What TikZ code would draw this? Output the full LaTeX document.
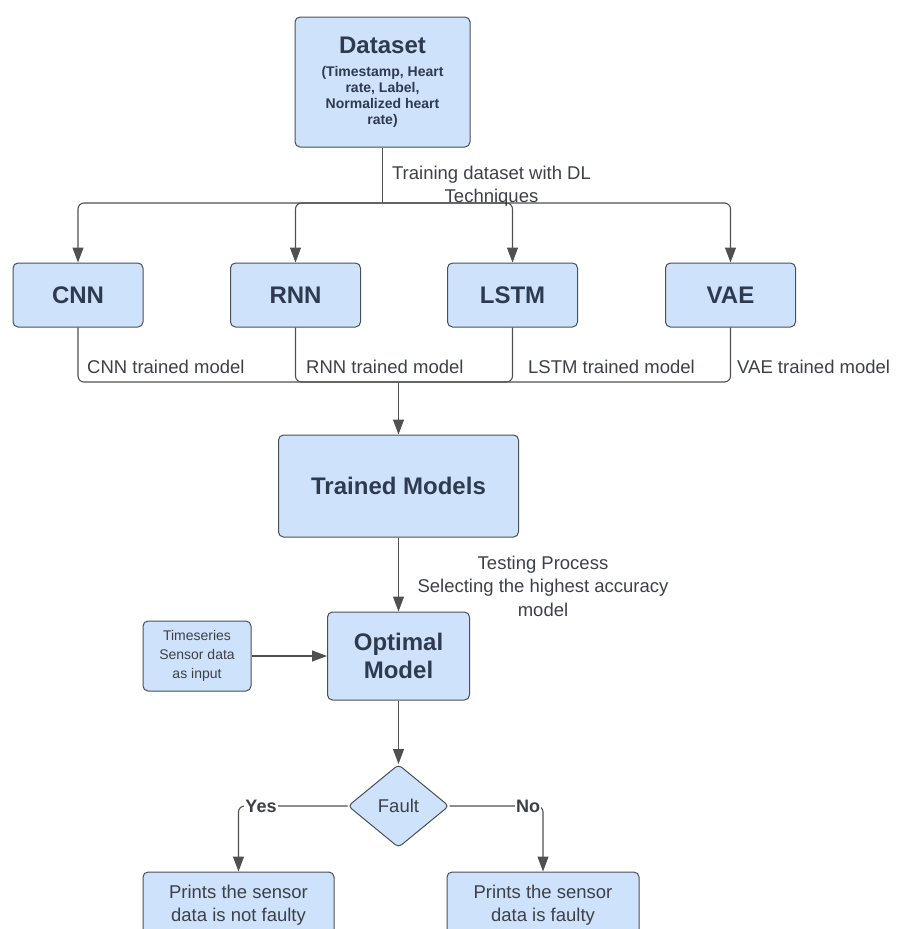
\documentclass[tikz,border=0pt]{standalone}
\usepackage{fontspec}
\setmainfont{Liberation Sans}
\usepackage{xcolor}
\usetikzlibrary{arrows.meta,shapes.geometric}
\definecolor{boxfill}{HTML}{CFE2FB}
\definecolor{boxline}{HTML}{4A4F57}
\definecolor{titletext}{HTML}{2E3B4F}
\definecolor{plaintext}{HTML}{3C4148}
\definecolor{wiregray}{HTML}{505050}

\begin{document}
\begin{tikzpicture}[x=1pt,y=-1pt,
    box/.style={draw=boxline,fill=boxfill,line width=1pt,rounded corners=5pt,align=center,inner sep=2pt},
    title/.style={font=\bfseries\fontsize{24}{28}\selectfont,text=titletext},
    plain/.style={font=\fontsize{18.5}{23.5}\selectfont,text=plaintext,align=center},
    small/.style={font=\fontsize{14}{19}\selectfont,text=plaintext},
    verdict/.style={font=\bfseries\fontsize{18}{22}\selectfont,text=plaintext,fill=white,inner sep=1pt},
    wire/.style={draw=wiregray,line width=1.1pt,rounded corners=6pt},
    arrow/.style={wire,-{Triangle[length=15pt,width=11pt]}}]
                \useasboundingbox (0,0) rectangle (911,929);
                \clip (0,0) rectangle (911,929);
                % boxes
                \node[box,minimum width=175pt,minimum height=130pt,font=\bfseries\fontsize{14}{16}\selectfont,text=titletext] (dataset) at (382.5,82)
                    {{\fontsize{24}{28}\selectfont Dataset}\\[7pt](Timestamp, Heart\\rate, Label,\\Normalized heart\\rate)};
                \foreach \Name/\NameLabel/\X in {cnn/CNN/78, rnn/RNN/295.5, lstm/LSTM/512.5, vae/VAE/730.5}
                \node[box,title,minimum width=130pt,minimum height=64pt] (\Name) at (\X,295) {\NameLabel};
                \node[box,title,minimum width=240pt,minimum height=102pt] (trained) at (398.5,486) {Trained Models};
                \node[box,title,minimum width=142pt,minimum height=88pt] (optimal) at (398.5,656) {Optimal\\Model};
                \node[box,small,minimum width=108pt,minimum height=70pt] (series) at (197,656) {Timeseries\\Sensor data\\as input};
                \node[draw=boxline,fill=boxfill,line width=1pt,diamond,rounded corners=4pt,minimum width=101pt,minimum height=83pt,inner sep=0pt,plain] (fault) at (398.5,806) {Fault};
                \node[box,plain,minimum width=191pt,minimum height=66pt] (notfaulty) at (238.5,905) {Prints the sensor\\data is not faulty};
                \node[box,plain,minimum width=192pt,minimum height=66pt] (faulty) at (543,905) {Prints the sensor\\data is faulty};
                % training branches
                \coordinate (split) at (382.5,203);
                \coordinate (merge) at (398.5,382);
                \draw[wire] (dataset.south) -- (split);
                \foreach \Name in {cnn,rnn,lstm,vae}
                \draw[arrow] (split) -| (\Name.north);
                \foreach \Name in {cnn,rnn,lstm,vae}
                \draw[wire] (\Name.south) |- (merge);
                \draw[arrow] (merge) -- (trained.north);
                \foreach \Name/\NameLabel/\LabelX in {cnn/CNN/87, rnn/RNN/306, lstm/LSTM/528, vae/VAE/737}
                \node[plain,anchor=west,inner sep=0pt] (\Name-label) at (\LabelX,367) {\NameLabel\ trained model};
                \node[plain,inner sep=0pt] (training) at (491.5,186) {Training dataset with DL\\Techniques};
                % testing and decision
                \draw[arrow] (trained.south) -- (optimal.north);
                \node[plain,inner sep=0pt] (testing) at (543,586) {Testing Process\\Selecting the highest accuracy\\model};
                \draw[arrow] (series.east) -- (optimal.west);
                \draw[arrow] (optimal.south) -- (fault.north);
                \draw[arrow] (fault.west) -| (notfaulty.north);
                \draw[arrow] (fault.east) -| (faulty.north);
                \node[verdict] (yes) at (261,806) {Yes};
                \node[verdict] (no) at (528,806) {No};
            \end{tikzpicture}
\end{document}
